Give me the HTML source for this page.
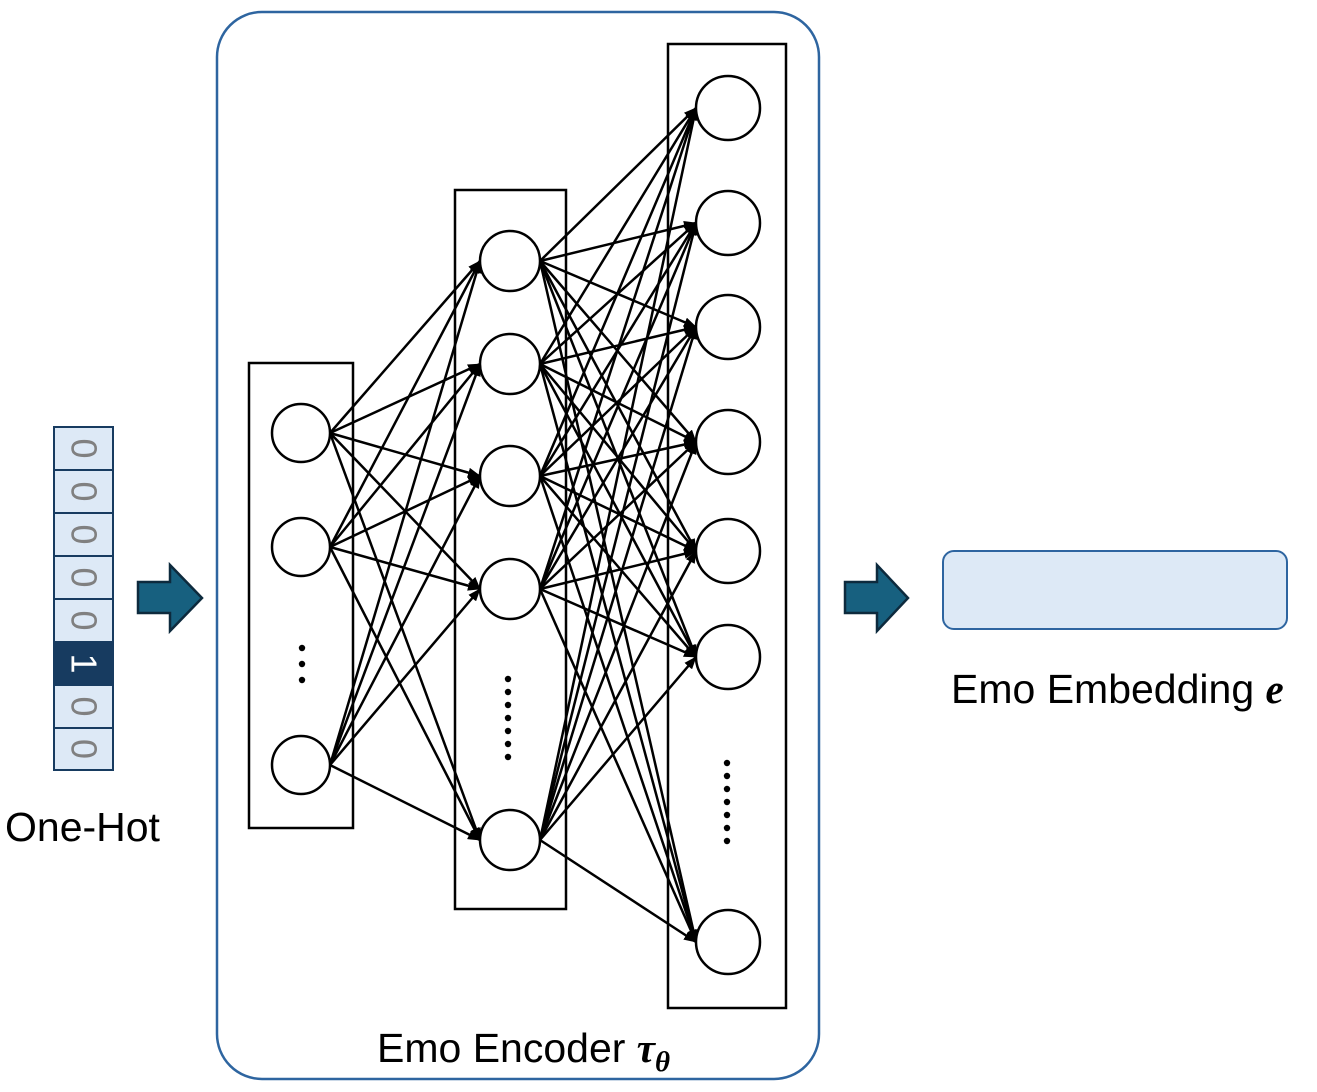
<!DOCTYPE html>
<html><head><meta charset="utf-8"><style>
body{margin:0;background:#fff;width:1317px;height:1087px;overflow:hidden}
svg text{font-family:"Liberation Sans",sans-serif}
</style></head><body>
<svg id="s" width="1317" height="1087" viewBox="0 0 1317 1087" xmlns="http://www.w3.org/2000/svg">
<defs><marker id="a" markerWidth="13" markerHeight="10" refX="12" refY="5" orient="auto" markerUnits="userSpaceOnUse"><path d="M0,0 L13,5 L0,10 z" fill="#000"/></marker></defs>
<rect x="217" y="12" width="602" height="1067" rx="45" fill="none" stroke="#2e65a0" stroke-width="2.5"/>
<rect x="249" y="363" width="104" height="465" fill="none" stroke="#000" stroke-width="2.5"/>
<rect x="455" y="190" width="111" height="719" fill="none" stroke="#000" stroke-width="2.5"/>
<rect x="668" y="44" width="118" height="964" fill="none" stroke="#000" stroke-width="2.5"/>
<g id="lines" stroke="#000" stroke-width="2.5" marker-end="url(#a)"></g>
<g id="nodes" fill="#fff" stroke="#000" stroke-width="2.5"></g>
<g fill="#000">
<circle cx="302" cy="648" r="3.2"/><circle cx="302" cy="664" r="3.2"/><circle cx="302" cy="680" r="3.2"/>
<circle cx="508" cy="679" r="3.2"/><circle cx="508" cy="692" r="3.2"/><circle cx="508" cy="705" r="3.2"/><circle cx="508" cy="718" r="3.2"/><circle cx="508" cy="731" r="3.2"/><circle cx="508" cy="744" r="3.2"/><circle cx="508" cy="757" r="3.2"/>
<circle cx="727" cy="763" r="3.2"/><circle cx="727" cy="776" r="3.2"/><circle cx="727" cy="789" r="3.2"/><circle cx="727" cy="802" r="3.2"/><circle cx="727" cy="815" r="3.2"/><circle cx="727" cy="828" r="3.2"/><circle cx="727" cy="841" r="3.2"/>
</g>
<g id="onehot"></g>
<path d="M138,582 H170 V565 L202,598 L170,631 V613 H138 Z" fill="#17607f" stroke="#0d2a3d" stroke-width="2.5"/>
<path d="M845,582 H877 V565 L908,598 L877,631 V613 H845 Z" fill="#17607f" stroke="#0d2a3d" stroke-width="2.5"/>
<rect x="943" y="551" width="344" height="78" rx="11" fill="#dde9f6" stroke="#2e65a0" stroke-width="2"/>
<text x="951" y="703" font-size="41">Emo Embedding <tspan font-weight="bold" font-style="italic" font-family="Liberation Serif">e</tspan></text>
<text x="5" y="841" font-size="41">One-Hot</text>
<text x="377" y="1062" font-size="41">Emo Encoder <tspan font-weight="bold" font-style="italic" font-family="Liberation Serif">τ</tspan><tspan font-weight="bold" font-style="italic" font-family="Liberation Serif" font-size="29" dy="9">θ</tspan></text>
</svg>
<script>
var NS="http://www.w3.org/2000/svg";
var L1={x:301,r:29,y:[433,547,765]},L2={x:510,r:30,y:[261,364,476,589,840]},L3={x:728,r:32,y:[108,223,327,442,551,657,942]};
var g=document.getElementById('lines'),n=document.getElementById('nodes');
function conn(A,B){A.y.forEach(function(a){B.y.forEach(function(b){var l=document.createElementNS(NS,'line');l.setAttribute('x1',A.x+A.r);l.setAttribute('y1',a);l.setAttribute('x2',B.x-B.r);l.setAttribute('y2',b);g.appendChild(l);});});}
conn(L1,L2);conn(L2,L3);
[L1,L2,L3].forEach(function(L){L.y.forEach(function(y){var c=document.createElementNS(NS,'circle');c.setAttribute('cx',L.x);c.setAttribute('cy',y);c.setAttribute('r',L.r);n.appendChild(c);});});
var o=document.getElementById('onehot');var ys=[427,470,513,556,599,642,685,728,770];
for(var i=0;i<8;i++){var r=document.createElementNS(NS,'rect');r.setAttribute('x',54);r.setAttribute('y',ys[i]);r.setAttribute('width',59);r.setAttribute('height',ys[i+1]-ys[i]);r.setAttribute('fill',i==5?'#173b60':'#dde9f6');r.setAttribute('stroke','#173b60');r.setAttribute('stroke-width',2);o.appendChild(r);
var t=document.createElementNS(NS,'text');var cy=(ys[i]+ys[i+1])/2;t.setAttribute('x',0);t.setAttribute('y',0);t.setAttribute('font-size',36);t.setAttribute('text-anchor','middle');t.setAttribute('dominant-baseline','central');t.setAttribute('fill',i==5?'#fff':'#808080');t.setAttribute('transform','translate(84,'+cy+') rotate(90)');t.textContent=i==5?'1':'0';o.appendChild(t);}
</script>
</body></html>
